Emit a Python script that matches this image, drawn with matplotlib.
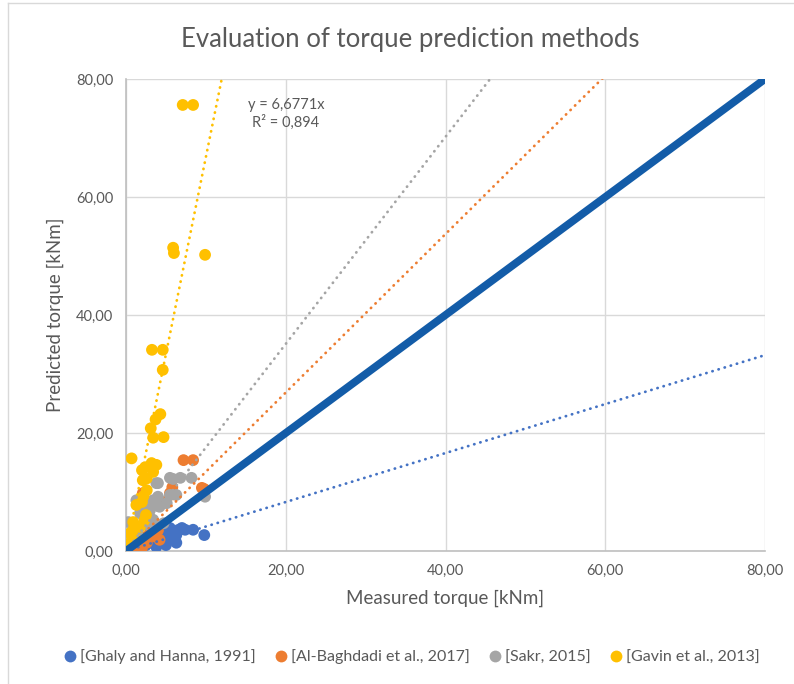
import matplotlib
matplotlib.use("Agg")
import matplotlib.pyplot as plt
from matplotlib.lines import Line2D
import numpy as np

plt.rcParams['font.family'] = ['Lato', 'DejaVu Sans']

# Measured vs predicted torque [kNm] for each prediction method
ghaly_x = [7.4, 8.4, 9.8, 5.9, 5.5, 6.6, 7.0, 4.5, 3.0, 4.0, 4.7, 6.3, 5.5, 6.3, 3.8, 2.5, 1.5, 0.8, 2.0, 3.5, 5.0]
ghaly_y = [3.6, 3.6, 2.7, 3.2, 3.9, 3.6, 3.9, 3.3, 1.9, 1.4, 1.9, 1.4, 2.4, 2.7, 0.7, 1.0, 0.5, 0.3, 1.5, 2.8, 1.0]

albaghdadi_x = [7.2, 8.4, 9.8, 5.8, 9.5, 2.1, 5.5, 5.9, 1.75, 2.6, 3.0, 0.9, 4.2, 0.5, 1.2, 2.0, 3.5, 4.0, 4.8, 2.8]
albaghdadi_y = [15.4, 15.4, 10.5, 10.8, 10.7, 9.8, 9.8, 9.6, 2.2, 1.4, 3.1, 1.0, 1.9, 0.5, 0.8, 0.5, 2.5, 3.5, 8.3, 4.3]

sakr_x = [5.5, 6.8, 8.2, 5.9, 3.8, 4.0, 2.1, 4.0, 5.5, 6.3, 9.9, 2.6, 1.75, 3.4, 4.2, 5.1, 3.4, 4.7, 3.0, 1.3, 0.3, 2.5, 1.5, 3.5]
sakr_y = [12.4, 12.4, 12.4, 12.2, 11.5, 11.5, 8.6, 9.2, 9.5, 9.5, 9.2, 7.3, 6.4, 8.6, 7.5, 8.1, 5.3, 4.7, 6.9, 8.6, 4.9, 4.5, 3.0, 4.0]

gavin_x = [7.1, 8.4, 5.9, 6.0, 9.9, 3.25, 4.6, 4.6, 4.3, 3.7, 3.1, 3.4, 4.7, 0.7, 3.2, 3.8, 2.0, 2.4, 3.4,
           2.1, 2.6, 2.6, 2.2, 2.0, 1.3, 0.9, 0.9, 1.75, 0.5, 1.2, 0.6, 2.5, 2.3]
gavin_y = [75.6, 75.6, 51.4, 50.5, 50.2, 34.1, 34.1, 30.7, 23.2, 22.3, 20.8, 19.2, 19.3, 15.7, 14.9, 14.6, 13.7, 14.2, 13.4,
           12.0, 12.3, 10.3, 9.3, 8.3, 7.8, 4.9, 3.6, 4.1, 3.0, 2.0, 1.5, 6.1, 5.2]

series_names = ['[Ghaly and Hanna, 1991]', '[Al-Baghdadi et al., 2017]', '[Sakr, 2015]', '[Gavin et al., 2013]']
series_colors = ['#4472C4', '#ED7D31', '#A5A5A5', '#FFC000']

# Linear trendlines through the origin (slopes)
trend_slopes = [0.415, 1.343, 1.755, 6.6771]
gavin_r2 = 0.894

axis_max = 80
tick_values = [0, 20, 40, 60, 80]

fig = plt.figure(figsize=(7.94, 6.84), dpi=100)
ax = fig.add_axes([126 / 794, 1 - 551 / 684, (765 - 126) / 794, (551 - 79) / 684])

xs = [ghaly_x, albaghdadi_x, sakr_x, gavin_x]
ys = [ghaly_y, albaghdadi_y, sakr_y, gavin_y]
for x, y, c, name in zip(xs, ys, series_colors, series_names):
    ax.scatter(x, y, s=72, color=c, edgecolors='none', label=name, zorder=3)

# Dotted trendlines, clipped to the plot area
line_x = np.linspace(0, axis_max, 400)
for k, c in zip(trend_slopes, series_colors):
    ax.plot(line_x, k * line_x, color=c, lw=2.0, linestyle=(0, (0.1, 2.2)),
            dash_capstyle='round', zorder=4)

# Line of equality
ax.plot([0, axis_max], [0, axis_max], color='#135CA8', lw=5.6, solid_capstyle='butt', zorder=5)

ax.text(20.0, 75.6, f"y = {trend_slopes[3]:.4f}x".replace('.', ','), ha='center', va='center',
        fontsize=10.5, color='#595959', zorder=6)
ax.text(20.0, 72.6, f"R² = {gavin_r2:.3f}".replace('.', ','), ha='center', va='center',
        fontsize=10.5, color='#595959', zorder=6)

ax.set_xlim(0, axis_max)
ax.set_ylim(0, axis_max)
ax.set_xticks(tick_values)
ax.set_yticks(tick_values)
fmt = lambda v: f"{v:.2f}".replace('.', ',')
ax.set_xticklabels([fmt(v) for v in tick_values])
ax.set_yticklabels([fmt(v) for v in tick_values])
ax.tick_params(length=0, labelsize=10.5, labelcolor='#595959', pad=9)
ax.grid(True, color='#D9D9D9', lw=1.0, zorder=0)
ax.set_axisbelow(True)
for side in ['top', 'right']:
    ax.spines[side].set_visible(False)
for side in ['left', 'bottom']:
    ax.spines[side].set_color('#BFBFBF')
    ax.spines[side].set_linewidth(1.2)

ax.set_xlabel('Measured torque [kNm]', fontsize=13.5, color='#595959', labelpad=9)
ax.set_ylabel('Predicted torque [kNm]', fontsize=13.5, color='#595959', labelpad=9)

fig.text(410 / 794, 1 - 40 / 684, 'Evaluation of torque prediction methods', ha='center', va='center',
         fontsize=18.5, color='#595959')

handles = [Line2D([], [], marker='o', ls='none', markersize=8.5, markerfacecolor=c, markeredgecolor='none')
           for c in series_colors]
fig.legend(handles, series_names, loc='center', bbox_to_anchor=(411 / 794, 1 - 657 / 684), ncol=4,
           frameon=False, fontsize=11.5, labelcolor='#595959', handletextpad=0.1, columnspacing=1.1,
           handlelength=1.0)

# Chart area frame
fig.add_artist(Line2D([8 / 794, 1], [1 - 3 / 684, 1 - 3 / 684], color='#D9D9D9', lw=1.0))
fig.add_artist(Line2D([8 / 794, 8 / 794], [0, 1 - 3 / 684], color='#D9D9D9', lw=1.0))

fig.savefig('out.png', dpi=100)
